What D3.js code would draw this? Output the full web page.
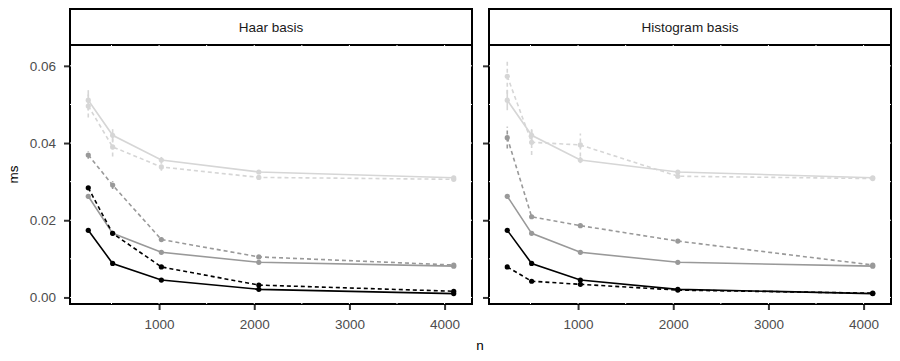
<!DOCTYPE html>
<html>
<head>
<meta charset="utf-8">
<script src="https://cdn.jsdelivr.net/npm/d3@7"></script>
<style>
  body { margin: 0; background: #fff; }
  svg { display: block; font-family: "Liberation Sans", Arial, sans-serif; }
</style>
</head>
<body>
<svg id="chart" width="900" height="361"></svg>
<script>
// sample sizes on the x axis
var nValues = [256, 512, 1024, 2048, 4096]

var facetNames = ['Haar basis', 'Histogram basis']

// solid lines are the same in both panels
var solidBlack = [0.0174, 0.0088, 0.0045, 0.0021, 0.0010]
var solidGrey = [0.0262, 0.0166, 0.0117, 0.0091, 0.0081]
var solidLight = [0.0511, 0.0420, 0.0356, 0.0325, 0.0310]

var haarDashedBlack = [0.0284, 0.0166, 0.0079, 0.0032, 0.0016]
var haarDashedGrey = [0.0369, 0.0291, 0.0150, 0.0105, 0.0084]
var haarDashedLight = [0.0496, 0.0390, 0.0338, 0.0311, 0.0306]

var histDashedBlack = [0.0079, 0.0042, 0.0034, 0.0019, 0.0011]
var histDashedGrey = [0.0414, 0.0209, 0.0186, 0.0146, 0.0084]
var histDashedLight = [0.0573, 0.0402, 0.0395, 0.0314, 0.0308]

// half widths of the error bars
var smallErr = [0.0003, 0.0002, 0.0002, 0.0002, 0.0002]
var solidGreyErr = [0.0006, 0.0003, 0.0002, 0.0002, 0.0002]
var solidLightErr = [0.0026, 0.0016, 0.0008, 0.0005, 0.0004]
var haarDashedGreyErr = [0.0010, 0.0010, 0.0005, 0.0003, 0.0003]
var haarDashedLightErr = [0.0030, 0.0025, 0.0010, 0.0005, 0.0004]
var histDashedGreyErr = [0.0028, 0.0005, 0.0004, 0.0003, 0.0003]
var histDashedLightErr = [0.0045, 0.0033, 0.0030, 0.0005, 0.0004]

var yTicks = [0, 0.02, 0.04, 0.06]
var yMinor = [0.01, 0.03, 0.05]
var xTicks = [1000, 2000, 3000, 4000]
var xMinor = [500, 1500, 2500, 3500]

var colors = { black: '#000000', grey: '#999999', light: '#d6d6d6' }

function series (values, errs, level, dashed) {
  return { values: values, errs: errs, level: level, dashed: dashed }
}

var panels = [
  [
    series(solidLight, solidLightErr, 'light', false),
    series(haarDashedLight, haarDashedLightErr, 'light', true),
    series(solidGrey, solidGreyErr, 'grey', false),
    series(haarDashedGrey, haarDashedGreyErr, 'grey', true),
    series(solidBlack, smallErr, 'black', false),
    series(haarDashedBlack, smallErr, 'black', true)
  ],
  [
    series(solidLight, solidLightErr, 'light', false),
    series(histDashedLight, histDashedLightErr, 'light', true),
    series(solidGrey, solidGreyErr, 'grey', false),
    series(histDashedGrey, histDashedGreyErr, 'grey', true),
    series(solidBlack, smallErr, 'black', false),
    series(histDashedBlack, smallErr, 'black', true)
  ]
]

var svg = d3.select('#chart')

var panelW = 402
var panelLeft = [70, 489]
var stripTop = 9
var stripBottom = 45
var panelBottom = 304
var fontSize = 13.5

var y = d3.scaleLinear()
  .domain([-0.0017, 0.0654])
  .range([panelBottom, stripBottom])

panels.forEach(function (lines, i) {
  var left = panelLeft[i]
  var x = d3.scaleLinear()
    .domain([64, 4288])
    .range([left, left + panelW])

  var g = svg.append('g')

  // strip
  g.append('rect')
    .attr('x', left).attr('y', stripTop)
    .attr('width', panelW).attr('height', stripBottom - stripTop)
    .attr('fill', '#fff').attr('stroke', '#000').attr('stroke-width', 2)
  g.append('text')
    .attr('x', left + panelW / 2).attr('y', (stripTop + stripBottom) / 2 + 5)
    .attr('text-anchor', 'middle')
    .attr('font-size', fontSize).attr('fill', '#1a1a1a')
    .text(facetNames[i])

  // panel border
  g.append('rect')
    .attr('x', left).attr('y', stripBottom)
    .attr('width', panelW).attr('height', panelBottom - stripBottom)
    .attr('fill', 'none').attr('stroke', '#000').attr('stroke-width', 2)

  // white grid lines, only seen where they cut the border
  var grid = g.append('g').attr('stroke', '#fff').attr('stroke-width', 1)
  xTicks.concat(xMinor).forEach(function (t) {
    grid.append('line')
      .attr('x1', x(t)).attr('x2', x(t))
      .attr('y1', stripBottom).attr('y2', panelBottom)
  })
  yTicks.concat(yMinor).forEach(function (t) {
    grid.append('line')
      .attr('x1', left).attr('x2', left + panelW)
      .attr('y1', y(t)).attr('y2', y(t))
  })

  // axes
  var yAxis = g.append('g')
    .attr('transform', 'translate(' + (left - 1) + ',0)')
    .call(d3.axisLeft(y).tickValues(yTicks).tickSize(5).tickPadding(8)
      .tickFormat(i === 0 ? d3.format('.2f') : function () { return '' }))
  var xAxis = g.append('g')
    .attr('transform', 'translate(0,' + (panelBottom + 1) + ')')
    .call(d3.axisBottom(x).tickValues(xTicks).tickSize(5).tickPadding(9)
      .tickFormat(d3.format('d')))
  ;[yAxis, xAxis].forEach(function (a) {
    a.select('.domain').remove()
    a.selectAll('.tick line').attr('stroke', '#333').attr('stroke-width', 2)
    a.selectAll('.tick text')
      .attr('fill', '#4d4d4d').attr('font-size', fontSize)
      .style('font-family', '"Liberation Sans", Arial, sans-serif')
  })

  // data
  var line = d3.line()
    .x(function (d, j) { return x(nValues[j]) })
    .y(function (d) { return y(d) })

  lines.forEach(function (s) {
    var col = colors[s.level]
    var dash = s.dashed ? '4,3' : null
    var sg = g.append('g')

    sg.selectAll('line.err')
      .data(s.values)
      .enter().append('line')
      .attr('class', 'err')
      .attr('x1', function (d, j) { return x(nValues[j]) })
      .attr('x2', function (d, j) { return x(nValues[j]) })
      .attr('y1', function (d, j) { return y(d - s.errs[j]) })
      .attr('y2', function (d, j) { return y(d + s.errs[j]) })
      .attr('stroke', col).attr('stroke-width', 1.6)
      .attr('stroke-dasharray', dash)

    sg.append('path')
      .datum(s.values)
      .attr('d', line)
      .attr('fill', 'none')
      .attr('stroke', col).attr('stroke-width', 1.6)
      .attr('stroke-dasharray', dash)

    sg.selectAll('circle')
      .data(s.values)
      .enter().append('circle')
      .attr('cx', function (d, j) { return x(nValues[j]) })
      .attr('cy', function (d) { return y(d) })
      .attr('r', 2.6)
      .attr('fill', col)
  })
})

// axis titles
svg.append('text')
  .attr('x', 480).attr('y', 350)
  .attr('text-anchor', 'middle').attr('font-size', fontSize).attr('fill', '#000')
  .text('n')
svg.append('text')
  .attr('transform', 'translate(18,' + ((stripBottom + panelBottom) / 2) + ') rotate(-90)')
  .attr('text-anchor', 'middle').attr('font-size', fontSize).attr('fill', '#000')
  .text('ms')
</script>
</body>
</html>
